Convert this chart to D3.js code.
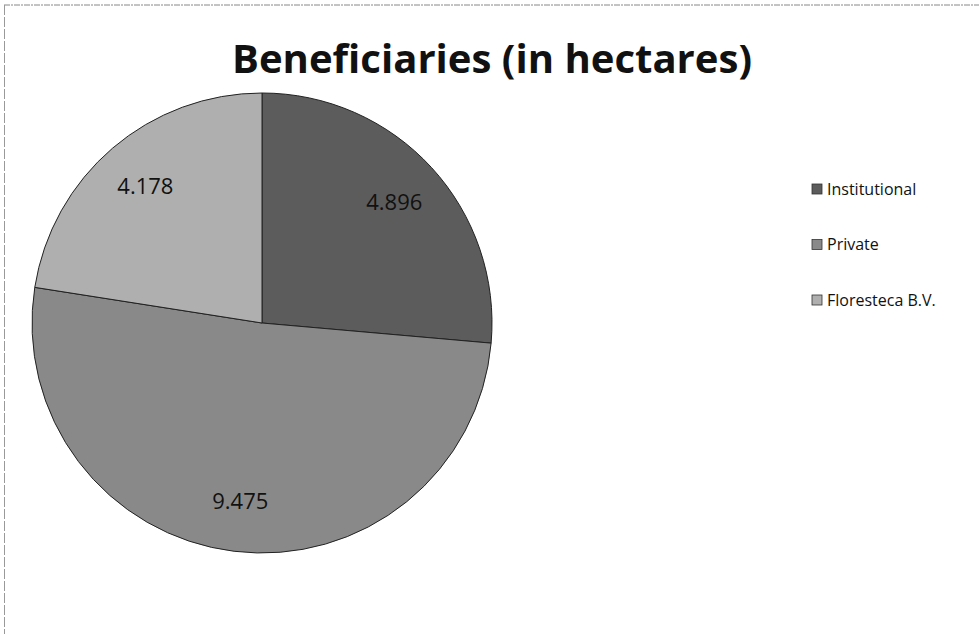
<!DOCTYPE html>
<html><head><meta charset="utf-8">
<script src="https://cdn.jsdelivr.net/npm/d3@7"></script>
<style>body{margin:0;background:#fff}svg{display:block}</style>
</head><body>
<script>
const categories = ["Institutional", "Private", "Floresteca B.V."];
const values = [4.896, 9.475, 4.178];
const valueLabels = ["4.896", "9.475", "4.178"];
const colors = ["#5c5c5c", "#898989", "#afafaf"];

const W = 979, H = 634;
const svg = d3.select("body").append("svg").attr("width", W).attr("height", H);
svg.append("rect").attr("width", W).attr("height", H).attr("fill", "#fff");
// frame (top & left edges visible)
svg.append("line").attr("x1", 4).attr("x2", W).attr("y1", 5).attr("y2", 5).attr("stroke", "#888").attr("stroke-width", 1).attr("stroke-dasharray", "6,1,2,1");
svg.append("line").attr("x1", 4.5).attr("x2", 4.5).attr("y1", 5).attr("y2", H).attr("stroke", "#999").attr("stroke-width", 1).attr("stroke-dasharray", "10,2");

svg.append("text").attr("x", 492).attr("y", 73).attr("text-anchor", "middle")
  .attr("font-family", "'Open Sans', 'Noto Sans', sans-serif").attr("font-weight", "bold")
  .attr("font-size", 39).attr("textLength", 520).attr("lengthAdjust", "spacingAndGlyphs")
  .attr("fill", "#111").text("Beneficiaries (in hectares)");

const cx = 262, cy = 323, r = 230;
const pie = d3.pie().sort(null).value(d => d)(values);
const arc = d3.arc().innerRadius(0).outerRadius(r);
const g = svg.append("g").attr("transform", `translate(${cx},${cy})`);
g.selectAll("path").data(pie).join("path")
  .attr("d", arc).attr("fill", (d, i) => colors[i])
  .attr("stroke", "#222").attr("stroke-width", 1);

const labelArc = d3.arc().innerRadius(r * 0.78).outerRadius(r * 0.78);
g.selectAll("text.lbl").data(pie).join("text").attr("class", "lbl")
  .attr("transform", d => { const c = labelArc.centroid(d); return `translate(${c[0]},${c[1]})`; })
  .attr("text-anchor", "middle").attr("dy", "0.35em")
  .attr("font-family", "'Open Sans', 'Noto Sans', sans-serif").attr("font-size", 22).attr("fill", "#111")
  .text((d, i) => valueLabels[i]);

const legend = svg.append("g");
const ly = d3.scalePoint().domain(categories).range([189, 300]);
const items = legend.selectAll("g").data(categories).join("g")
  .attr("transform", d => `translate(812,${ly(d)})`);
items.append("rect").attr("x", 0).attr("y", -5).attr("width", 10).attr("height", 10)
  .attr("fill", (d, i) => colors[i]).attr("stroke", "#333").attr("stroke-width", 0.8);
items.append("text").attr("x", 15).attr("dy", "0.35em")
  .attr("font-family", "'Open Sans', 'Noto Sans', sans-serif").attr("font-size", 16).attr("fill", "#111")
  .text(d => d);
</script>
</body></html>
